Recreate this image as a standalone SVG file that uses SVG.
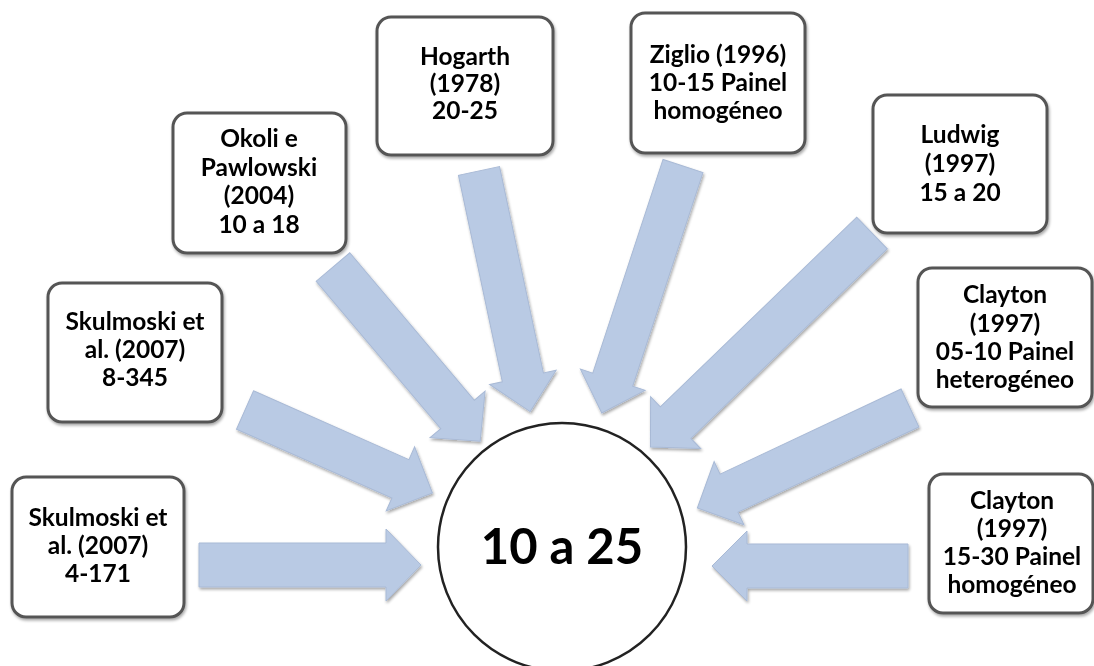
<svg xmlns="http://www.w3.org/2000/svg" width="1094" height="666" viewBox="0 0 1094 666">
<defs>
<filter id="sh" x="-20%" y="-20%" width="140%" height="140%">
<feGaussianBlur in="SourceAlpha" stdDeviation="1.5"/>
<feOffset dx="1" dy="2" result="b"/>
<feComponentTransfer><feFuncA type="linear" slope="0.35"/></feComponentTransfer>
<feMerge><feMergeNode/><feMergeNode in="SourceGraphic"/></feMerge>
</filter>
</defs>
<style>
.box{fill:#fff;stroke:#555;stroke-width:3}
.t{font-family:Lato,"Liberation Sans",sans-serif;font-weight:bold;font-size:24.5px;fill:#000;text-anchor:middle}
.arr{fill:#b9cae4;stroke:#a9bad6;stroke-width:1}
.big{font-family:Lato,"Liberation Sans",sans-serif;font-weight:bold;font-size:49px;fill:#000;text-anchor:middle}
</style>
<rect width="1094" height="666" fill="#fff"/>
<g id="center">
<circle cx="562" cy="547" r="124" fill="#fff" stroke="#222" stroke-width="2.5"/>
<text class="big" x="562" y="564">10 a 25</text>
</g>
<g id="connectors" filter="url(#sh)">
<path class="arr" transform="translate(199,565) rotate(0)" d="M0,-22 H187 V-36 L222,0 L187,36 V22 H0 Z"/>
<path class="arr" transform="translate(245,410) rotate(23.9)" d="M0,-21 H170 V-35 L205,0 L170,35 V21 H0 Z"/>
<path class="arr" transform="translate(333,267) rotate(49.8)" d="M0,-22 H193 V-36 L228,0 L193,36 V22 H0 Z"/>
<path class="arr" transform="translate(479,171) rotate(78)" d="M0,-21 H211 V-34 L246,0 L211,34 V21 H0 Z"/>
<path class="arr" transform="translate(683,166) rotate(108.2)" d="M0,-21 H225 V-34 L260,0 L225,34 V21 H0 Z"/>
<path class="arr" transform="translate(872,233) rotate(136)" d="M0,-22 H273 V-36 L308,0 L273,36 V22 H0 Z"/>
<path class="arr" transform="translate(910,408) rotate(154.8)" d="M0,-21 H200 V-35 L235,0 L200,35 V21 H0 Z"/>
<path class="arr" transform="translate(908,566) rotate(180)" d="M0,-22 H161 V-35 L196,0 L161,35 V22 H0 Z"/>
</g>
<g id="n1" filter="url(#sh)">
<rect class="box" x="12" y="477" width="172" height="140" rx="14"/>
<text class="t" x="98" y="526">Skulmoski et</text>
<text class="t" x="98" y="554">al. (2007)</text>
<text class="t" x="98" y="582">4-171</text>
</g>
<g id="n2" filter="url(#sh)">
<rect class="box" x="48" y="283" width="174" height="139" rx="14"/>
<text class="t" x="135" y="330">Skulmoski et</text>
<text class="t" x="135" y="358">al. (2007)</text>
<text class="t" x="135" y="386">8-345</text>
</g>
<g id="n3" filter="url(#sh)">
<rect class="box" x="173" y="113" width="173" height="140" rx="14"/>
<text class="t" x="259" y="147">Okoli e</text>
<text class="t" x="259" y="176">Pawlowski</text>
<text class="t" x="259" y="204">(2004)</text>
<text class="t" x="259" y="233">10 a 18</text>
</g>
<g id="n4" filter="url(#sh)">
<rect class="box" x="377" y="17" width="176" height="138" rx="14"/>
<text class="t" x="465" y="65">Hogarth</text>
<text class="t" x="465" y="92">(1978)</text>
<text class="t" x="465" y="119">20-25</text>
</g>
<g id="n5" filter="url(#sh)">
<rect class="box" x="631" y="13" width="174" height="140" rx="14"/>
<text class="t" x="718" y="63">Ziglio (1996)</text>
<text class="t" x="718" y="91">10-15 Painel</text>
<text class="t" x="718" y="119">homogéneo</text>
</g>
<g id="n6" filter="url(#sh)">
<rect class="box" x="873" y="95" width="174" height="138" rx="14"/>
<text class="t" x="960" y="143">Ludwig</text>
<text class="t" x="960" y="172">(1997)</text>
<text class="t" x="960" y="201">15 a 20</text>
</g>
<g id="n7" filter="url(#sh)">
<rect class="box" x="918" y="268" width="174" height="139" rx="14"/>
<text class="t" x="1005" y="303">Clayton</text>
<text class="t" x="1005" y="332">(1997)</text>
<text class="t" x="1005" y="360">05-10 Painel</text>
<text class="t" x="1005" y="388">heterogéneo</text>
</g>
<g id="n8" filter="url(#sh)">
<rect class="box" x="929" y="474" width="164" height="139" rx="14"/>
<text class="t" x="1012" y="509">Clayton</text>
<text class="t" x="1012" y="537">(1997)</text>
<text class="t" x="1012" y="565">15-30 Painel</text>
<text class="t" x="1012" y="593">homogéneo</text>
</g>
</svg>
